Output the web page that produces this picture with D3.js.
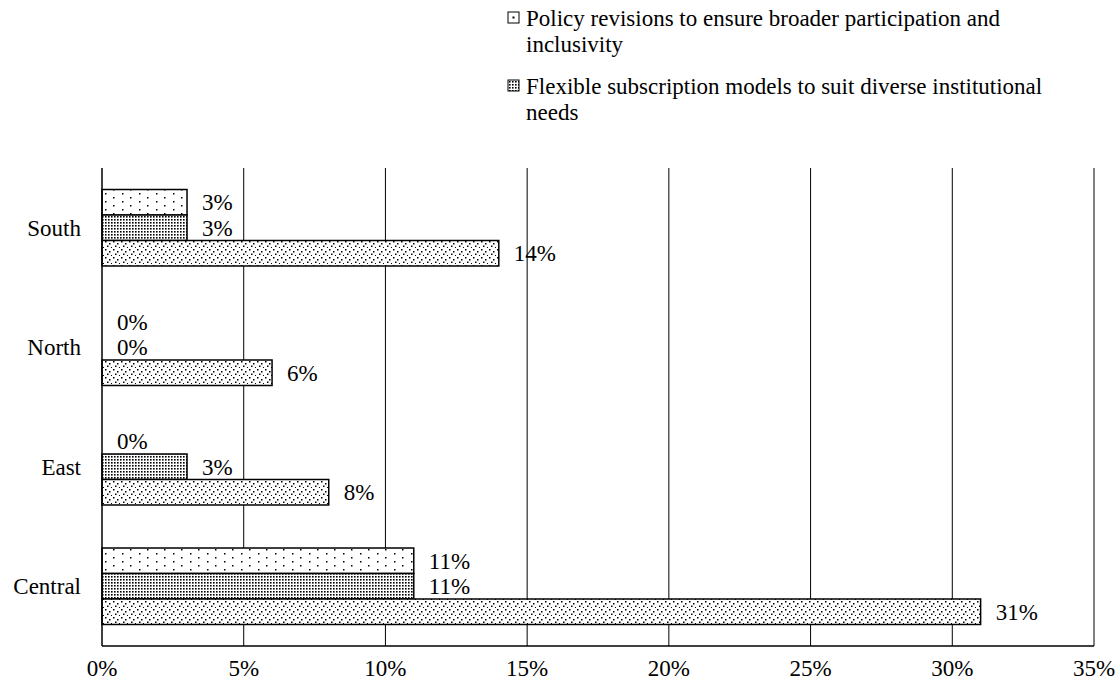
<!DOCTYPE html>
<html><head><meta charset="utf-8">
<script src="https://cdn.jsdelivr.net/npm/d3@7"></script>
<style>body{margin:0;background:#fff;} svg{display:block;} svg text{font-family:"Liberation Serif", "Times New Roman", "DejaVu Serif", serif;}</style>
</head><body>
<svg id="c" width="1118" height="684"></svg>
<script>
const categories = ["South", "North", "East", "Central"];
const policyValues = [3, 0, 0, 11];
const flexibleValues = [3, 0, 3, 11];
const thirdValues = [14, 6, 8, 31];
const tickValues = [0, 5, 10, 15, 20, 25, 30, 35];
const legendLines = [["Policy revisions to ensure broader participation and", "inclusivity"],
  ["Flexible subscription models to suit diverse institutional", "needs"]];

const series = [policyValues, flexibleValues, thirdValues];
const FS = 23;
const svg = d3.select("#c");
const defs = svg.append("defs");

// patterns
const p1 = defs.append("pattern").attr("id","p0").attr("patternUnits","userSpaceOnUse").attr("width",17).attr("height",8);
p1.append("rect").attr("width",17).attr("height",8).attr("fill","#fff");
p1.append("rect").attr("x",3).attr("y",1).attr("width",1.5).attr("height",1.5).attr("fill","#000");
p1.append("rect").attr("x",11).attr("y",5).attr("width",1.5).attr("height",1.5).attr("fill","#000");

const p2 = defs.append("pattern").attr("id","p1").attr("patternUnits","userSpaceOnUse").attr("width",3).attr("height",3);
p2.append("rect").attr("width",3).attr("height",3).attr("fill","#fff");
p2.append("rect").attr("x",0).attr("y",0).attr("width",1.6).attr("height",1.6).attr("fill","#000");

const p3 = defs.append("pattern").attr("id","p2").attr("patternUnits","userSpaceOnUse").attr("width",8).attr("height",8);
p3.append("rect").attr("width",8).attr("height",8).attr("fill","#fff");
p3.append("rect").attr("x",1).attr("y",1).attr("width",1.5).attr("height",1.5).attr("fill","#000");
p3.append("rect").attr("x",5).attr("y",3).attr("width",1.5).attr("height",1.5).attr("fill","#000");
p3.append("rect").attr("x",3).attr("y",5.5).attr("width",1.5).attr("height",1.5).attr("fill","#000");
p3.append("rect").attr("x",7).attr("y",7).attr("width",1).attr("height",1).attr("fill","#000");

const m = {left:102, right:1094, top:168, bottom:646};
const x = d3.scaleLinear().domain([0,35]).range([m.left, m.right]);
const y = d3.scaleBand().domain(categories).range([m.top, m.bottom]).paddingInner(0.36).paddingOuter(0.18);
const ys = d3.scaleBand().domain([0,1,2]).range([0, y.bandwidth()]);

// gridlines
svg.append("g").selectAll("line").data(tickValues.slice(1)).join("line")
  .attr("x1", d=>x(d)).attr("x2", d=>x(d)).attr("y1", m.top).attr("y2", m.bottom)
  .attr("stroke","#000").attr("stroke-width",1);

// bars
series.forEach((vals, si) => {
  const g = svg.append("g");
  g.selectAll("rect").data(categories).join("rect")
    .attr("x", x(0)).attr("y", c => y(c) + ys(si))
    .attr("width", (c,i) => x(vals[i]) - x(0))
    .attr("height", ys.bandwidth())
    .attr("fill", `url(#p${si})`)
    .attr("stroke", (c,i)=> vals[i] > 0 ? "#000" : "none").attr("stroke-width", 1.5);
  g.selectAll("text").data(categories).join("text")
    .attr("x", (c,i) => x(vals[i]) + 15)
    .attr("y", c => y(c) + ys(si) + ys.bandwidth()/2)
    .attr("dy", "0.35em")
    .style("font-size", FS + "px")
    .text((c,i) => vals[i] + "%");
});

// axes lines
svg.append("line").attr("x1", m.left).attr("x2", m.left).attr("y1", m.top).attr("y2", m.bottom).attr("stroke","#000").attr("stroke-width",1.5);
svg.append("line").attr("x1", m.left).attr("x2", m.right).attr("y1", m.bottom).attr("y2", m.bottom).attr("stroke","#000").attr("stroke-width",1.5);

// x tick labels
svg.append("g").selectAll("text").data(tickValues).join("text")
  .attr("x", d=>x(d)).attr("y", 668).attr("dy","0.35em")
  .attr("text-anchor","middle").style("font-size", FS + "px").text(d=>d+"%");

// y labels
svg.append("g").selectAll("text").data(categories).join("text")
  .attr("x", 81).attr("y", c=>y(c)+y.bandwidth()/2).attr("dy","0.35em")
  .attr("text-anchor","end").style("font-size", FS + "px").text(c=>c);

// legend marker patterns
const lp0 = defs.append("pattern").attr("id","lp0").attr("patternUnits","userSpaceOnUse").attr("width",11).attr("height",11).attr("x",508).attr("y",12);
lp0.append("rect").attr("width",11).attr("height",11).attr("fill","#fff");
lp0.append("rect").attr("x",4.5).attr("y",4.5).attr("width",2).attr("height",2).attr("fill","#000");
const lp1 = defs.append("pattern").attr("id","lp1").attr("patternUnits","userSpaceOnUse").attr("width",3).attr("height",3).attr("x",509).attr("y",81);
lp1.append("rect").attr("width",3).attr("height",3).attr("fill","#fff");
lp1.append("rect").attr("width",1.6).attr("height",1.6).attr("fill","#000");

// legend
const legTop = [18, 86];
legendLines.forEach((lines, i) => {
  const g = svg.append("g");
  g.append("rect").attr("x",508).attr("y",legTop[i]-6).attr("width",11).attr("height",11)
    .attr("fill", `url(#lp${i})`).attr("stroke","#000").attr("stroke-width",1);
  lines.forEach((t, j) => {
    g.append("text").attr("x",526).attr("y", legTop[i] + j*26).attr("dy","0.35em")
      .style("font-size", FS + "px").text(t);
  });
});
</script>
</body></html>
